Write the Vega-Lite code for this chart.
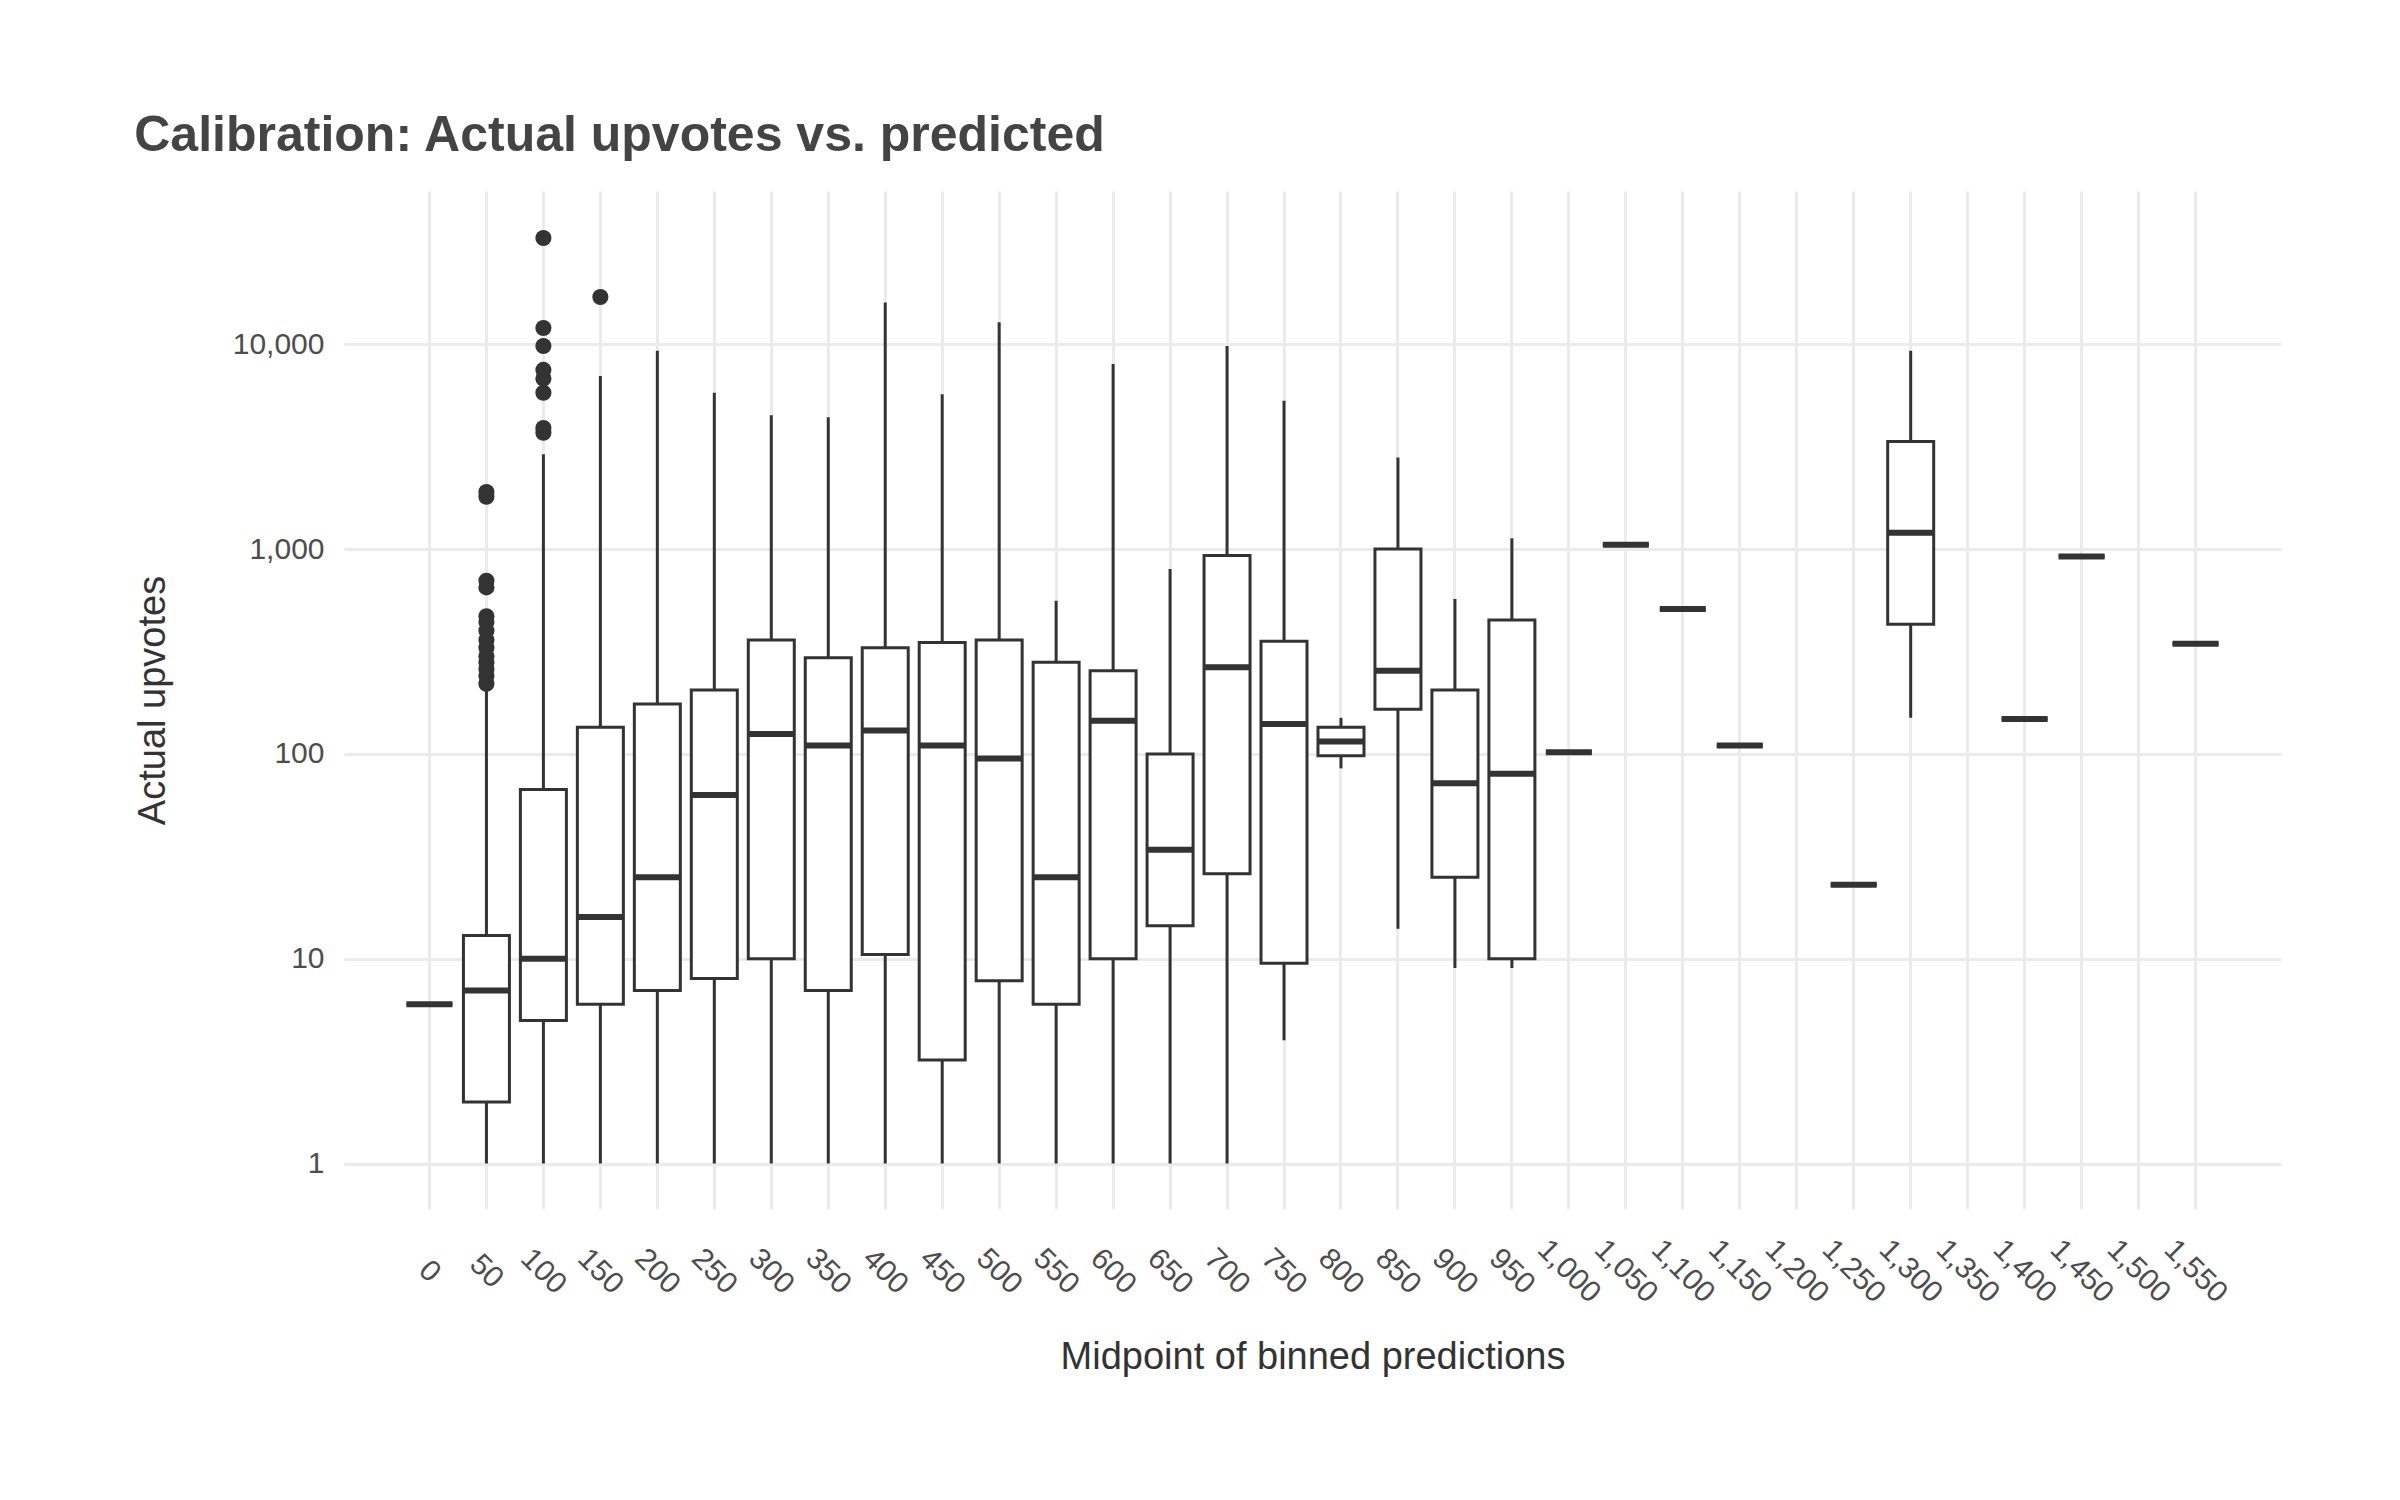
{
  "$schema": "https://vega.github.io/schema/vega-lite/v6.json",
  "background": "white",
  "autosize": {"type": "none"},
  "padding": {"left": 344, "top": 191, "right": 119, "bottom": 291},
  "width": 1937,
  "height": 1018,
  "title": {
    "text": "Calibration: Actual upvotes vs. predicted",
    "anchor": "start",
    "font": "Liberation Sans",
    "fontSize": 50,
    "fontWeight": "bold",
    "color": "#444444",
    "offset": 30
  },
  "datasets": {
    "boxes": [
      {"bin": "0", "lo": 6, "q1": 6, "med": 6, "q3": 6, "hi": 6},
      {"bin": "50", "lo": 1, "q1": 2, "med": 7, "q3": 13, "hi": 210},
      {"bin": "100", "lo": 1, "q1": 5, "med": 10, "q3": 67, "hi": 2900},
      {"bin": "150", "lo": 1, "q1": 6, "med": 16, "q3": 135, "hi": 7000},
      {"bin": "200", "lo": 1, "q1": 7, "med": 25, "q3": 175, "hi": 9300},
      {"bin": "250", "lo": 1, "q1": 8, "med": 63, "q3": 205, "hi": 5800},
      {"bin": "300", "lo": 1, "q1": 10, "med": 125, "q3": 360, "hi": 4500},
      {"bin": "350", "lo": 1, "q1": 7, "med": 110, "q3": 295, "hi": 4400},
      {"bin": "400", "lo": 1, "q1": 10.5, "med": 130, "q3": 330, "hi": 16000},
      {"bin": "450", "lo": 1, "q1": 3.2, "med": 110, "q3": 350, "hi": 5700},
      {"bin": "500", "lo": 1, "q1": 7.8, "med": 95, "q3": 360, "hi": 12800},
      {"bin": "550", "lo": 1, "q1": 6, "med": 25, "q3": 280, "hi": 560},
      {"bin": "600", "lo": 1, "q1": 10, "med": 145, "q3": 255, "hi": 8000},
      {"bin": "650", "lo": 1, "q1": 14.5, "med": 34, "q3": 100, "hi": 800},
      {"bin": "700", "lo": 1, "q1": 26, "med": 265, "q3": 930, "hi": 9800},
      {"bin": "750", "lo": 4, "q1": 9.5, "med": 140, "q3": 355, "hi": 5300},
      {"bin": "800", "lo": 85, "q1": 98, "med": 115, "q3": 135, "hi": 150},
      {"bin": "850", "lo": 14, "q1": 165, "med": 255, "q3": 1000, "hi": 2800},
      {"bin": "900", "lo": 9, "q1": 25, "med": 72, "q3": 205, "hi": 570},
      {"bin": "950", "lo": 9, "q1": 10, "med": 80, "q3": 450, "hi": 1130},
      {"bin": "1,000", "lo": 102, "q1": 102, "med": 102, "q3": 102, "hi": 102},
      {"bin": "1,050", "lo": 1050, "q1": 1050, "med": 1050, "q3": 1050, "hi": 1050},
      {"bin": "1,100", "lo": 510, "q1": 510, "med": 510, "q3": 510, "hi": 510},
      {"bin": "1,150", "lo": 110, "q1": 110, "med": 110, "q3": 110, "hi": 110},
      {"bin": "1,250", "lo": 23, "q1": 23, "med": 23, "q3": 23, "hi": 23},
      {"bin": "1,300", "lo": 150, "q1": 430, "med": 1200, "q3": 3350, "hi": 9300},
      {"bin": "1,400", "lo": 148, "q1": 148, "med": 148, "q3": 148, "hi": 148},
      {"bin": "1,450", "lo": 920, "q1": 920, "med": 920, "q3": 920, "hi": 920},
      {"bin": "1,550", "lo": 345, "q1": 345, "med": 345, "q3": 345, "hi": 345}
    ],
    "outliers": [
      {"bin": "50", "v": 220}, {"bin": "50", "v": 240}, {"bin": "50", "v": 260},
      {"bin": "50", "v": 280}, {"bin": "50", "v": 300}, {"bin": "50", "v": 330},
      {"bin": "50", "v": 360}, {"bin": "50", "v": 400}, {"bin": "50", "v": 440},
      {"bin": "50", "v": 470}, {"bin": "50", "v": 650}, {"bin": "50", "v": 700},
      {"bin": "50", "v": 1800}, {"bin": "50", "v": 1900},
      {"bin": "100", "v": 3700}, {"bin": "100", "v": 3900}, {"bin": "100", "v": 5800},
      {"bin": "100", "v": 6800}, {"bin": "100", "v": 7500}, {"bin": "100", "v": 9800},
      {"bin": "100", "v": 12000}, {"bin": "100", "v": 33000},
      {"bin": "150", "v": 17000}
    ]
  },
  "encoding": {
    "x": {
      "field": "bin",
      "type": "nominal",
      "title": "Midpoint of binned predictions",
      "scale": {
        "type": "band",
        "paddingInner": 0,
        "paddingOuter": 1.55,
        "domain": ["0","50","100","150","200","250","300","350","400","450","500","550","600","650","700","750","800","850","900","950","1,000","1,050","1,100","1,150","1,200","1,250","1,300","1,350","1,400","1,450","1,500","1,550"]
      },
      "axis": {"labelAngle": 45, "labelAlign": "center", "labelBaseline": "middle", "labelPadding": 62, "bandPosition": 0.5, "titlePadding": 30}
    }
  },
  "layer": [
    {
      "data": {"name": "boxes"},
      "mark": {"type": "rule", "color": "#333333", "strokeWidth": 3},
      "encoding": {
        "y": {
          "field": "lo",
          "type": "quantitative",
          "title": "Actual upvotes",
          "scale": {"type": "log", "domain": [0.6, 56000], "nice": false},
          "axis": {"values": [1, 10, 100, 1000, 10000], "format": ","}
        },
        "y2": {"field": "hi"}
      }
    },
    {
      "data": {"name": "boxes"},
      "mark": {"type": "bar", "fill": "white", "stroke": "#333333", "strokeWidth": 3, "size": 46},
      "encoding": {"y": {"field": "q1", "type": "quantitative"}, "y2": {"field": "q3"}}
    },
    {
      "data": {"name": "boxes"},
      "mark": {"type": "tick", "color": "#333333", "thickness": 6, "size": 46, "opacity": 1},
      "encoding": {"y": {"field": "med", "type": "quantitative"}}
    },
    {
      "data": {"name": "outliers"},
      "mark": {"type": "circle", "color": "#333333", "size": 260, "opacity": 1},
      "encoding": {"y": {"field": "v", "type": "quantitative"}}
    }
  ],
  "config": {
    "font": "Liberation Sans",
    "view": {"stroke": null},
    "axis": {
      "grid": true,
      "gridColor": "#ebebeb",
      "gridWidth": 3,
      "domain": false,
      "ticks": false,
      "labelFont": "Liberation Sans",
      "labelFontSize": 30,
      "labelColor": "#4d4d4d",
      "titleFont": "Liberation Sans",
      "titleFontSize": 38,
      "titleFontWeight": "normal",
      "titleColor": "#333333"
    },
    "axisY": {"labelPadding": 20, "titlePadding": 60}
  }
}
